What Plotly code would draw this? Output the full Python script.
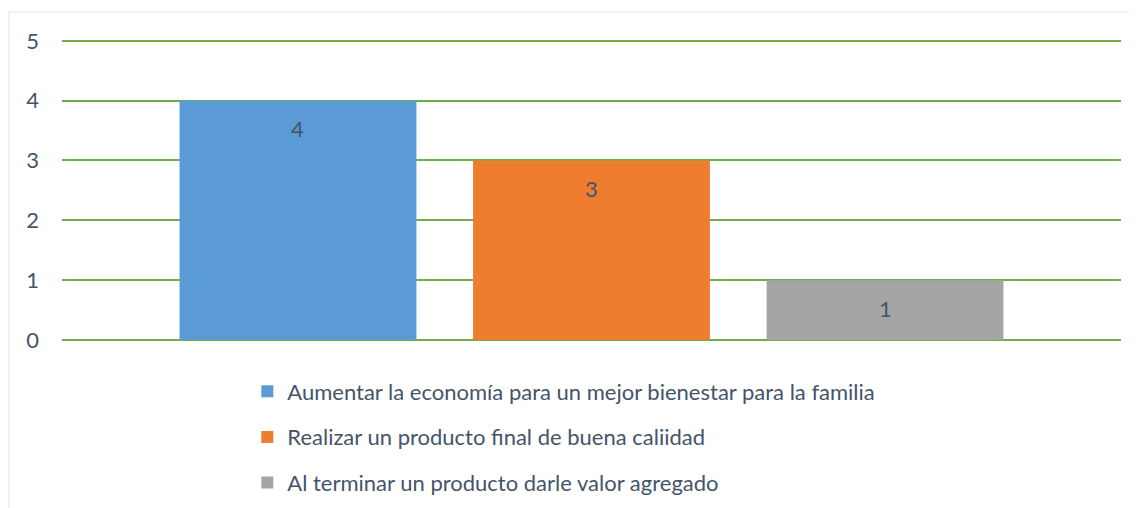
import plotly.graph_objects as go

categories = [
    "Aumentar la economía para un mejor bienestar para la familia",
    "Realizar un producto final de buena caliidad",
    "Al terminar un producto darle valor agregado",
]
values = [4, 3, 1]
colors = ["#5b9bd5", "#ef7d2f", "#a5a5a5"]
y_ticks = [0, 1, 2, 3, 4, 5]

FONT = "Lato"
FS = 22
TXT = "#44546A"
GRID = "#70AD47"

fig = go.Figure()
for cat, val, col in zip(categories, values, colors):
    fig.add_trace(go.Bar(
        x=[cat], y=[val], name=cat,
        marker=dict(color=col, line=dict(width=0)),
        width=0.807,
        legendgroup=cat,
    ))

for cat, val in zip(categories, values):
    fig.add_annotation(
        x=cat, y=val, text=str(val), showarrow=False,
        yshift=-28, font=dict(family=FONT, size=FS, color=TXT),
    )

fig.add_shape(type="rect", xref="paper", yref="paper",
              x0=-0.05, x1=1.1, y0=-0.7, y1=1.09,
              line=dict(color="#e3e3e3", width=1), layer="below")

# page body has an 8px margin; figure sized/offset to compensate
fig.update_layout(
    width=1129, height=500,
    margin=dict(l=54, r=16, t=31, b=168, pad=0),
    paper_bgcolor="white", plot_bgcolor="white",
    barmode="overlay",
    font=dict(family=FONT, size=FS, color=TXT),
    xaxis=dict(
        type="category", range=[-0.804, 2.804],
        showticklabels=False, showgrid=False, zeroline=False,
        showline=False, fixedrange=True,
    ),
    yaxis=dict(
        range=[0, 5.03], tickvals=y_ticks, ticktext=[str(t) for t in y_ticks],
        showgrid=True, gridcolor=GRID, gridwidth=2,
        zeroline=True, zerolinecolor=GRID, zerolinewidth=2,
        showline=False, ticklabelstandoff=22,
        tickfont=dict(family=FONT, size=FS, color=TXT),
    ),
    showlegend=True,
    legend=dict(
        orientation="v", x=0.175, xanchor="left",
        yref="container", y=0.275, yanchor="top",
        font=dict(family=FONT, size=FS, color=TXT),
        tracegroupgap=14, traceorder="grouped",
        itemwidth=30, bgcolor="rgba(0,0,0,0)",
    ),
)

fig.write_html("out.html")
